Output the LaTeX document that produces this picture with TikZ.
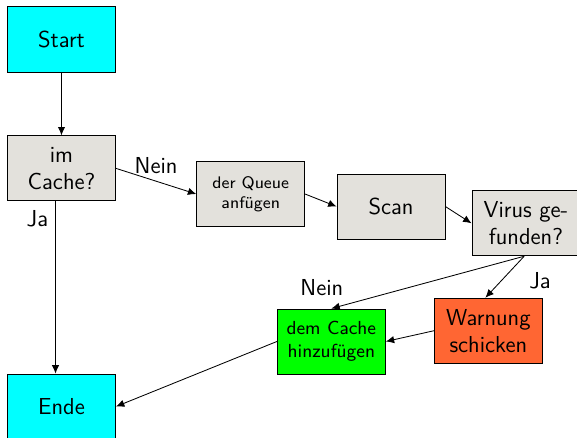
\documentclass[tikz,border=0pt]{standalone}
\usepackage{amsmath}
\usepackage{xcolor}
\usepackage{tikz}
\usetikzlibrary{arrows.meta}

\definecolor{boxgray}{RGB}{227,225,220}
\definecolor{warnred}{RGB}{255,102,51}
\definecolor{startcyan}{RGB}{0,255,255}
\definecolor{addgreen}{RGB}{0,255,0}
\tikzset{box/.style={draw, fill=boxgray, minimum width=1.81cm, minimum height=1.09cm, align=center}}

\begin{document}
\begin{tikzpicture}[>={Latex[length=4pt,width=3.5pt]}, font=\sffamily\fontsize{11}{13}\selectfont]
\clip (0,0) rectangle (9.665,-7.32);
\node[box,fill=startcyan] (start) at (1.03,-.66) {Start};
\node[box] (cache) at (1.03,-2.82) {im\\Cache?};
\node[box,fill=startcyan] (ende) at (1.03,-6.81) {Ende};
\node[box,font=\sffamily\footnotesize] (queue) at (4.2,-3.25) {der Queue\\anfügen};
\node[box] (scan) at (6.55,-3.46) {Scan};
\node[box] (virus) at (8.81,-3.74) {Virus ge-\\funden?};
\node[box,fill=warnred] (warn) at (8.18,-5.54) {Warnung\\schicken};
\node[box,fill=addgreen,font=\sffamily\small] (add) at (5.55,-5.72) {dem Cache\\hinzufügen};

\draw[->] (start) -- (cache);
\draw[->] ([xshift=-.1cm]cache.south) -- node[left,pos=.1] {Ja} ([xshift=-.1cm]ende.north);
\draw[->] (cache.east) -- node[above] {Nein} (queue.west);
\draw[->] (queue.east) -- (scan.west);
\draw[->] (scan.east) -- (virus.west);
\draw[->] ([xshift=-.03cm]virus.south) -- node[above left,pos=.9] {Nein} (add.north);
\draw[->] ([xshift=-.03cm]virus.south) -- node[right=10pt,pos=.6] {Ja} ([xshift=-.05cm]warn.north);
\draw[->] (warn.west) -- (add.east);
\draw[->] (add.west) -- (ende.east);
\end{tikzpicture}
\end{document}
